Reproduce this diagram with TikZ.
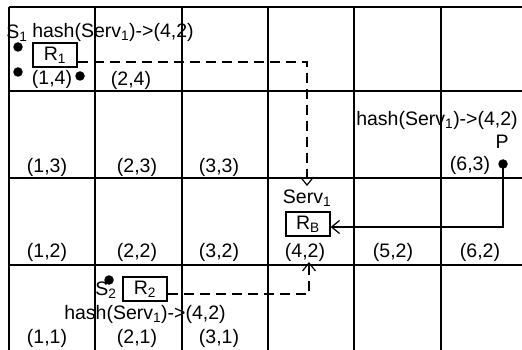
\documentclass[tikz,border=0pt]{standalone}
\usepackage{fontspec}
\setmainfont{Liberation Sans}
\usetikzlibrary{arrows.meta}
\begin{document}
\begin{tikzpicture}[x=1pt,y=-1pt,
  every node/.style={font=\fontsize{19.5}{22}\selectfont, inner sep=0pt},
  gridline/.style={line width=1.2pt},
  dot/.style={circle, fill, minimum size=9.5pt},
  box/.style={draw, line width=1.2pt, minimum width=44pt, minimum height=24pt},
  dashconn/.style={line width=1.2pt, dash pattern=on 10pt off 6pt, -{Straight Barb[length=8pt,width=13pt,line width=1.2pt]}},
  solidconn/.style={line width=1.2pt, -{Straight Barb[length=8pt,width=13pt,line width=1.2pt]}},
  lbl/.style={anchor=center}]
\useasboundingbox (0,0) rectangle (522,350);
% grid
\foreach \y in {7,91,178,265} \draw[gridline] (9,\y) -- (522,\y);
\foreach \x in {9,95,182,268,354,441} \draw[gridline] (\x,7) -- (\x,350);
% cell labels
\node[lbl] (c14) at (52,79) {(1,4)};
\node[lbl] (c24) at (131,80) {(2,4)};
\node[lbl] (c13) at (47,167) {(1,3)};
\node[lbl] (c23) at (137,167) {(2,3)};
\node[lbl] (c33) at (219,167) {(3,3)};
\node[lbl] (c63) at (470,165) {(6,3)};
\node[lbl] (c12) at (47,252) {(1,2)};
\node[lbl] (c22) at (137,252) {(2,2)};
\node[lbl] (c32) at (219,252) {(3,2)};
\node[lbl] (c42) at (305,252) {(4,2)};
\node[lbl] (c52) at (393,252) {(5,2)};
\node[lbl] (c62) at (480,252) {(6,2)};
\node[lbl] (c11) at (47,338) {(1,1)};
\node[lbl] (c21) at (137,338) {(2,1)};
\node[lbl] (c31) at (219,338) {(3,1)};
% top-left region
\node[lbl] (s1) at (17,33) {S\textsubscript{1}};
\node[lbl] (h1) at (113,32) {hash(Serv\textsubscript{1})->(4,2)};
\node[dot] (d1) at (18,47) {};
\node[dot] (d2) at (18,72) {};
\node[dot] (d3) at (80,76) {};
\node[box] (r1) at (55,55) {R\textsubscript{1}};
% right region
\node[lbl] (h3) at (437,120) {hash(Serv\textsubscript{1})->(4,2)};
\node[lbl] (p) at (502,142) {P};
\node[dot] (pd) at (503,164) {};
\node[lbl] (serv) at (307,198) {Serv\textsubscript{1}};
\node[box] (rb) at (308,224) {R\textsubscript{B}};
% bottom region
\node[dot] (d4) at (109,280) {};
\node[lbl] (s2) at (106,290) {S\textsubscript{2}};
\node[box] (r2) at (145,289) {R\textsubscript{2}};
\node[lbl] (h2) at (145,314) {hash(Serv\textsubscript{1})->(4,2)};
% connectors
\coordinate (t1) at (307,186);
\coordinate (t2) at (309,262);
\draw[dashconn] ([yshift=-7pt]r1.east) -| (t1);
\draw[dashconn] ([yshift=-5pt]r2.east) -| (t2);
\draw[solidconn] (pd.center) |- ([yshift=-3pt]rb.east);
\end{tikzpicture}
\end{document}
